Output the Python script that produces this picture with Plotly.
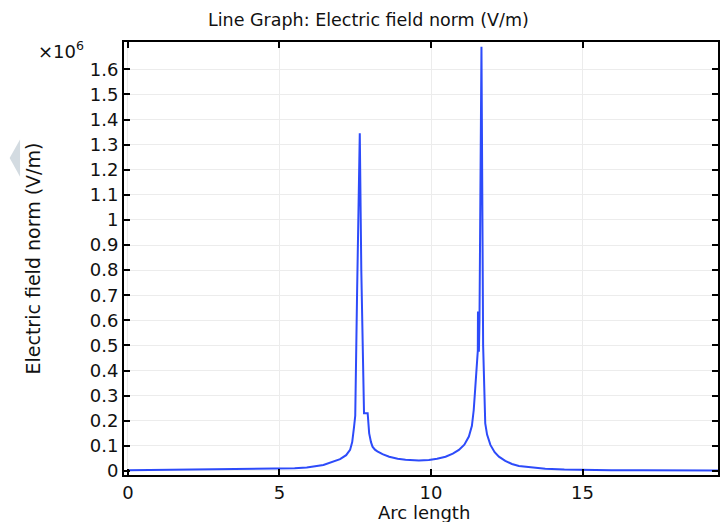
import plotly.graph_objects as go

# Arc length (x) and electric field norm (V/m)
arc_length = [0, 1, 2, 3, 4, 5, 5.5, 5.9, 6.45, 7.0, 7.2, 7.33, 7.40, 7.46, 7.50, 7.56, 7.65,
              7.70, 7.76, 7.78, 7.79, 7.91, 7.96, 8.02, 8.07, 8.15, 8.23, 8.40, 8.62, 8.90,
              9.16, 9.6, 9.93, 10.2, 10.48, 10.72, 10.92, 11.10, 11.25, 11.35, 11.41, 11.46,
              11.52, 11.545, 11.55, 11.58, 11.60, 11.665, 11.72, 11.74, 11.79, 11.85, 11.96,
              12.1, 12.24, 12.45, 12.67, 12.9, 13.22, 13.77, 14.4, 14.97, 15.95,
              17.0, 18.0, 19.6]
field_norm = [3e3, 4e3, 5e3, 6e3, 7e3, 9e3, 11e3, 14e3, 24e3, 47e3, 63e3, 84e3, 115e3, 175e3,
              220e3, 700e3, 1.345e6,
              800e3, 296e3, 296e3, 230e3, 230e3, 150e3, 115e3, 97e3, 85e3, 78e3, 67e3, 57e3,
              49e3, 45e3, 42e3, 44e3, 49e3, 57e3, 69e3, 84e3, 105e3, 137e3, 180e3, 243e3, 330e3,
              480e3, 480e3, 635e3, 475e3, 600e3, 1.69e6, 500e3, 415e3, 190e3, 145e3, 104e3,
              75e3, 57e3, 40e3, 28e3, 20e3, 15e3, 9e3, 6e3, 4e3, 3e3,
              2.5e3, 2e3, 1.5e3]

y_tick_vals = [0, 0.1e6, 0.2e6, 0.3e6, 0.4e6, 0.5e6, 0.6e6, 0.7e6, 0.8e6, 0.9e6,
               1.0e6, 1.1e6, 1.2e6, 1.3e6, 1.4e6, 1.5e6, 1.6e6]
y_tick_text = ["0", "0.1", "0.2", "0.3", "0.4", "0.5", "0.6", "0.7", "0.8", "0.9",
               "1", "1.1", "1.2", "1.3", "1.4", "1.5", "1.6"]
x_tick_vals = [0, 5, 10, 15]
x_tick_text = ["0", "5", "10", "15"]

FONT = "DejaVu Sans"

fig = go.Figure()
fig.add_trace(go.Scatter(
    x=arc_length, y=field_norm, mode="lines",
    line=dict(color="rgb(45,75,250)", width=2),
    hoverinfo="skip", showlegend=False,
))

axis_common = dict(
    showline=True, linecolor="black", linewidth=2, mirror="ticks",
    ticks="inside", ticklen=6, tickcolor="black", tickwidth=1.5,
    showgrid=True, gridcolor="#ececec", gridwidth=1, zeroline=False,
    tickfont=dict(family=FONT, size=18, color="#111"),
)

fig.update_layout(
    width=721, height=522,
    margin=dict(l=124, r=1, t=42, b=47),
    paper_bgcolor="white", plot_bgcolor="white",
    font=dict(family=FONT, color="#111"),
    xaxis=dict(range=[-0.13, 19.47], tickvals=x_tick_vals, ticktext=x_tick_text,
               **axis_common),
    yaxis=dict(range=[-0.016e6, 1.709e6], tickvals=y_tick_vals, ticktext=y_tick_text,
               **axis_common),
    annotations=[
        dict(text="Line Graph: Electric field norm (V/m)", xref="paper", yref="paper",
             x=0.411, y=1, yshift=22, showarrow=False, xanchor="center", yanchor="middle",
             font=dict(family=FONT, size=17.5, color="#111")),
        dict(text="Arc length", xref="paper", yref="paper", x=0.505, y=0, yshift=-37,
             showarrow=False, xanchor="center", yanchor="middle",
             font=dict(family=FONT, size=18, color="#111")),
        dict(text="Electric field norm (V/m)", xref="paper", yref="paper", x=0, xshift=-92,
             y=0.50, showarrow=False, textangle=-90, xanchor="center", yanchor="middle",
             font=dict(family=FONT, size=19, color="#111")),
        dict(text="×10<sup>6</sup>", xref="paper", yref="paper", x=0, xshift=-38,
             y=1, yshift=-8, showarrow=False, xanchor="right", yanchor="middle",
             font=dict(family=FONT, size=18, color="#111")),
    ],
    shapes=[
        dict(type="path", xref="paper", yref="paper", layer="above",
             path="M -0.1925 0.732 L -0.175 0.775 L -0.175 0.689 Z",
             fillcolor="#d3dbe1", line=dict(width=0)),
    ],
)

fig.write_html("out.html", config={"displayModeBar": False},
               post_script="document.body.style.margin='0';document.body.style.padding='0';")
